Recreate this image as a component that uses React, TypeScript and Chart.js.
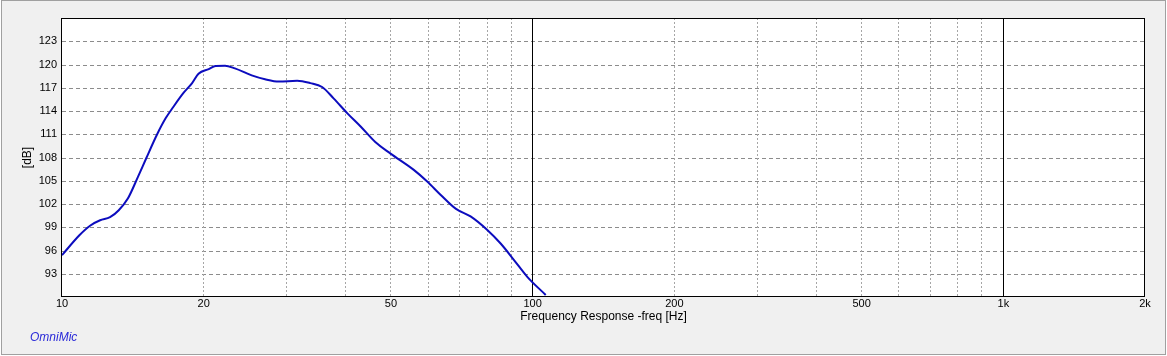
import React, { useEffect, useRef } from "react";
import { Chart, registerables } from "chart.js";

Chart.register(...registerables);

// Frequency response data (Hz, dB)
const freqHz = [
  10, 10.9, 11.47, 12.05, 12.65, 13.2, 13.8, 14.5, 15.1, 15.9, 16.6, 17.25, 18.1, 18.9,
  19.5, 20.5, 21.2, 22.2, 23.3, 25.3, 27.0, 28.9, 31.6, 33.7, 35.7, 37.8, 40.4, 43.1,
  46.3, 49.9, 55.9, 59.7, 63.7, 68.6, 73.8, 80.1, 85.5, 91.2, 97.4, 106.6,
];
const splDb = [
  95.4, 98.0, 99.2, 99.9, 100.3, 101.2, 102.7, 105.5, 107.9, 110.9, 113.05, 114.55, 116.3, 117.6,
  118.8, 119.4, 119.8, 119.85, 119.5, 118.6, 118.1, 117.8, 117.9, 117.6, 117.1, 115.6, 113.7, 112.0,
  110.0, 108.5, 106.4, 104.9, 103.2, 101.4, 100.4, 98.65, 96.9, 94.8, 92.6, 90.26,
];

const xTickValues = [10, 20, 50, 100, 200, 500, 1000, 2000];
const xTickLabels = ["10", "20", "50", "100", "200", "500", "1k", "2k"];
const xMinorGrid = [20, 30, 40, 50, 60, 70, 80, 90, 200, 300, 400, 500, 600, 700, 800, 900];
const xMajorGrid = [100, 1000];
const yTickValues = [90, 93, 96, 99, 102, 105, 108, 111, 114, 117, 120, 123, 126];
const yLabeled = [93, 96, 99, 102, 105, 108, 111, 114, 117, 120, 123];

const X_MIN = 10;
const X_MAX = 2000;
const Y_MIN = 90;
const Y_MAX = 126;

const FONT = "'Liberation Sans', Arial, sans-serif";

const framePlugin = {
  id: "omniFrame",
  beforeDraw(chart: any) {
    const ctx = chart.ctx;
    const { width, height } = chart;
    ctx.save();
    ctx.fillStyle = "#ffffff";
    ctx.fillRect(0, 0, width, height);
    ctx.fillStyle = "#f0f0f0";
    ctx.fillRect(1, 0, 1165, 355);
    ctx.strokeStyle = "#a0a0a0";
    ctx.lineWidth = 1;
    ctx.strokeRect(1.5, 0.5, 1164, 354);
    const a = chart.chartArea;
    ctx.fillStyle = "#ffffff";
    ctx.fillRect(a.left, a.top, a.right - a.left, a.bottom - a.top);
    ctx.restore();
  },
  beforeDatasetsDraw(chart: any) {
    const ctx = chart.ctx;
    const a = chart.chartArea;
    const xs = chart.scales.x;
    const ys = chart.scales.y;
    ctx.save();
    ctx.lineWidth = 1;
    // horizontal dashed grid
    ctx.strokeStyle = "#8c8c8c";
    ctx.setLineDash([4, 3]);
    for (const v of yLabeled) {
      const y = Math.round(ys.getPixelForValue(v)) + 0.5;
      ctx.beginPath();
      ctx.moveTo(a.left, y);
      ctx.lineTo(a.right, y);
      ctx.stroke();
    }
    // vertical dotted minor grid
    ctx.strokeStyle = "#a6a6a6";
    ctx.setLineDash([2, 2]);
    for (const v of xMinorGrid) {
      const x = Math.floor(xs.getPixelForValue(v)) + 0.5;
      ctx.beginPath();
      ctx.moveTo(x, a.top);
      ctx.lineTo(x, a.bottom);
      ctx.stroke();
    }
    // solid decade lines
    ctx.setLineDash([]);
    ctx.strokeStyle = "#000000";
    for (const v of xMajorGrid) {
      const x = Math.floor(xs.getPixelForValue(v)) + 0.5;
      ctx.beginPath();
      ctx.moveTo(x, a.top);
      ctx.lineTo(x, a.bottom);
      ctx.stroke();
    }
    ctx.restore();
  },
  afterDatasetsDraw(chart: any) {
    const ctx = chart.ctx;
    const a = chart.chartArea;
    ctx.save();
    ctx.setLineDash([]);
    ctx.strokeStyle = "#000000";
    ctx.lineWidth = 1;
    ctx.strokeRect(a.left - 0.5, a.top + 0.5, a.right - a.left, a.bottom - a.top - 1);
    // axis titles
    ctx.fillStyle = "#000000";
    ctx.font = `12px ${FONT}`;
    ctx.textAlign = "center";
    ctx.textBaseline = "middle";
    ctx.fillText("Frequency Response -freq [Hz]", (a.left + a.right) / 2, 317);
    ctx.save();
    ctx.translate(28, (a.top + a.bottom) / 2);
    ctx.rotate(-Math.PI / 2);
    ctx.fillText("[dB]", 0, 0);
    ctx.restore();
    // brand label
    ctx.fillStyle = "#2a2ad8";
    ctx.font = `italic 12px ${FONT}`;
    ctx.textAlign = "left";
    ctx.fillText("OmniMic", 30, 338);
    ctx.restore();
  },
};

export default function App() {
  const canvasRef = useRef<HTMLCanvasElement | null>(null);

  useEffect(() => {
    const canvas = canvasRef.current;
    if (!canvas) return;
    const points = freqHz.map((f, i) => ({ x: f, y: splDb[i] }));
    const chart = new Chart(canvas, {
      type: "line",
      data: {
        datasets: [
          {
            data: points,
            borderColor: "#0c0cbe",
            borderWidth: 2,
            pointRadius: 0,
            cubicInterpolationMode: "monotone",
            fill: false,
          },
        ],
      },
      options: {
        animation: false,
        responsive: false,
        devicePixelRatio: 1,
        events: [],
        layout: { padding: { top: 18, right: 22, left: 0, bottom: 0 } },
        plugins: {
          legend: { display: false },
          tooltip: { enabled: false },
          title: { display: false },
        },
        scales: {
          x: {
            type: "logarithmic",
            min: X_MIN,
            max: X_MAX,
            grid: { display: false, drawTicks: false, tickLength: 0 },
            border: { display: false },
            afterFit: (s: any) => {
              s.height = 59;
            },
            afterBuildTicks: (s: any) => {
              s.ticks = xTickValues.map((v) => ({ value: v }));
            },
            ticks: {
              autoSkip: false,
              maxRotation: 0,
              minRotation: 0,
              padding: 0,
              color: "#000000",
              font: { family: FONT, size: 11 },
              callback: (value: any) => {
                const i = xTickValues.indexOf(Number(value));
                return i >= 0 ? xTickLabels[i] : "";
              },
            },
          },
          y: {
            type: "linear",
            min: Y_MIN,
            max: Y_MAX,
            grid: { display: false, drawTicks: false, tickLength: 0 },
            border: { display: false },
            afterFit: (s: any) => {
              s.width = 62;
            },
            afterBuildTicks: (s: any) => {
              s.ticks = yTickValues.map((v) => ({ value: v }));
            },
            ticks: {
              autoSkip: false,
              padding: 5,
              color: "#000000",
              font: { family: FONT, size: 11 },
              callback: (value: any) =>
                yLabeled.includes(Number(value)) ? String(value) : "",
            },
          },
        },
      },
      plugins: [framePlugin],
    });
    return () => chart.destroy();
  }, []);

  return (
    <div style={{ position: "fixed", left: 0, top: 0, width: 1167, height: 356 }}>
      <canvas
        ref={canvasRef}
        width={1167}
        height={356}
        style={{ width: 1167, height: 356, display: "block" }}
      />
    </div>
  );
}
